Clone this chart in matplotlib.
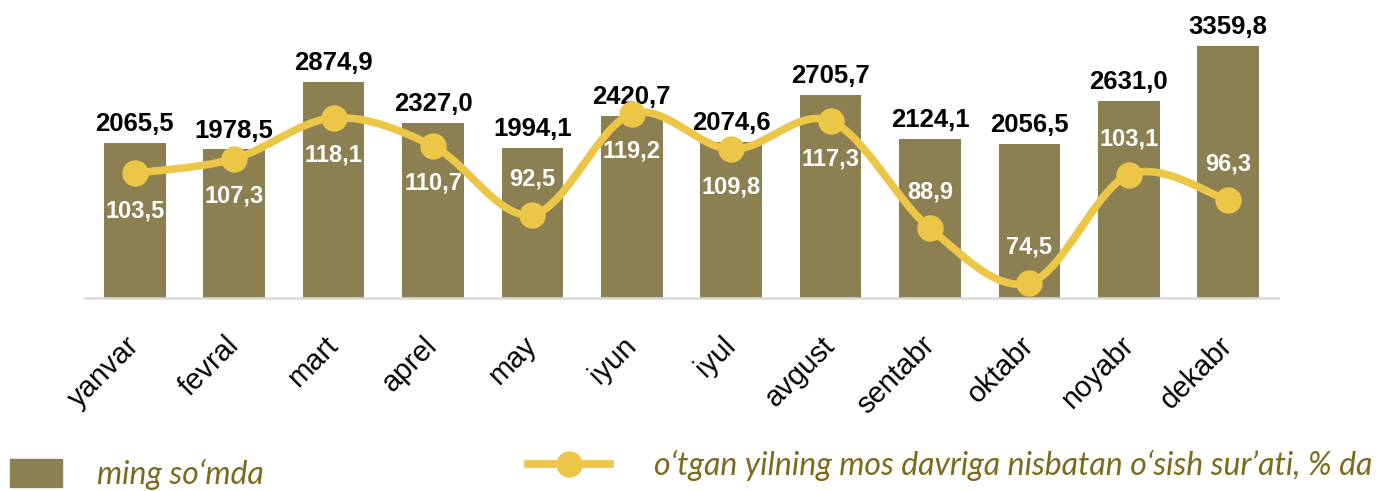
import numpy as np
import matplotlib.pyplot as plt
from matplotlib.patches import Patch
from matplotlib.lines import Line2D

months = ['yanvar', 'fevral', 'mart', 'aprel', 'may', 'iyun', 'iyul',
          'avgust', 'sentabr', 'oktabr', 'noyabr', 'dekabr']
volume = [2065.5, 1978.5, 2874.9, 2327.0, 1994.1, 2420.7, 2074.6,
          2705.7, 2124.1, 2056.5, 2631.0, 3359.8]
growth = [103.5, 107.3, 118.1, 110.7, 92.5, 119.2, 109.8,
          117.3, 88.9, 74.5, 103.1, 96.3]
# where the growth label sits relative to its marker
growth_label_side = ['below', 'below', 'below', 'below', 'above', 'below',
                     'below', 'below', 'above', 'above', 'above', 'above']

bar_color = '#8c8053'
line_color = '#ebc647'
legend_text_color = '#7d6a1c'

plt.rcParams['font.family'] = ['Liberation Sans', 'DejaVu Sans']


def fmt(v):
    return f'{v:.1f}'.replace('.', ',')


def smooth(x, y, n=30):
    # Excel-style smoothed line (Catmull-Rom as cubic Bezier)
    p = np.column_stack([x, y]).astype(float)
    pts = np.vstack([p[0], p, p[-1]])
    t = np.linspace(0, 1, n)[:, None]
    out = []
    for i in range(1, len(pts) - 2):
        p0, p1 = pts[i], pts[i + 1]
        c1 = p0 + (pts[i + 1] - pts[i - 1]) / 6
        c2 = p1 - (pts[i + 2] - pts[i]) / 6
        seg = ((1 - t) ** 3) * p0 + 3 * ((1 - t) ** 2) * t * c1 + 3 * (1 - t) * t ** 2 * c2 + t ** 3 * p1
        out.append(seg if i == 1 else seg[1:])
    out = np.vstack(out)
    return out[:, 0], out[:, 1]


fig = plt.figure(figsize=(13.88, 4.91), dpi=100)
ax = fig.add_axes([85 / 1388, 193 / 491, (1278 - 85) / 1388, 298 / 491])
x = np.arange(len(months))

ax.bar(x, volume, width=0.62, color=bar_color, zorder=2)
ax.set_xlim(-0.5, len(months) - 0.5)
ax.set_ylim(0, 3970)
for xi, v in zip(x, volume):
    ax.annotate(fmt(v), (xi, v), xytext=(0, 5), textcoords='offset points',
                ha='center', va='bottom', fontsize=18.5, fontweight='bold', color='black')

for s in ['top', 'right', 'left']:
    ax.spines[s].set_visible(False)
ax.spines['bottom'].set_color('#d9d9d9')
ax.spines['bottom'].set_linewidth(1.8)
ax.set_yticks([])
ax.set_xticks(x)
ax.set_xticklabels(months, rotation=45, ha='right', va='center', rotation_mode='anchor',
                   fontsize=21)
ax.tick_params(axis='x', length=0, pad=31)

ax2 = ax.twinx()
ax2.set_ylim(70.5, 149.3)
ax2.axis('off')
sx, sy = smooth(x, growth)
ax2.plot(sx, sy, color=line_color, lw=5.5, solid_capstyle='round', zorder=3)
ax2.plot(x, growth, 'o', color=line_color, ms=18, zorder=4)
for xi, v, side in zip(x, growth, growth_label_side):
    dy = -27 if side == 'below' else 26
    ax2.annotate(fmt(v), (xi, v), xytext=(0, dy), textcoords='offset points',
                 ha='center', va='center', fontsize=17, fontweight='bold', color='white',
                 zorder=5)

h1 = Patch(facecolor=bar_color, edgecolor=bar_color)
h2 = Line2D([], [], color=line_color, lw=5.5, marker='o', ms=18)
leg_kw = dict(frameon=False, prop={'family': 'Lato', 'style': 'italic', 'size': 23},
              labelcolor=legend_text_color, borderaxespad=0, borderpad=0)
fig.legend([h1], ['ming so‘mda'], loc='lower left', bbox_to_anchor=(10 / 1388, 1 / 491),
           handlelength=1.63, handleheight=1.0, handletextpad=1.1, **leg_kw)
fig.legend([h2], ['o‘tgan yilning mos davriga nisbatan o‘sish sur’ati, % da'],
           loc='lower left', bbox_to_anchor=(528 / 1388, 10 / 491),
           handlelength=2.56, handletextpad=1.4, numpoints=1, **leg_kw)

fig.savefig('out.png', dpi=100)
